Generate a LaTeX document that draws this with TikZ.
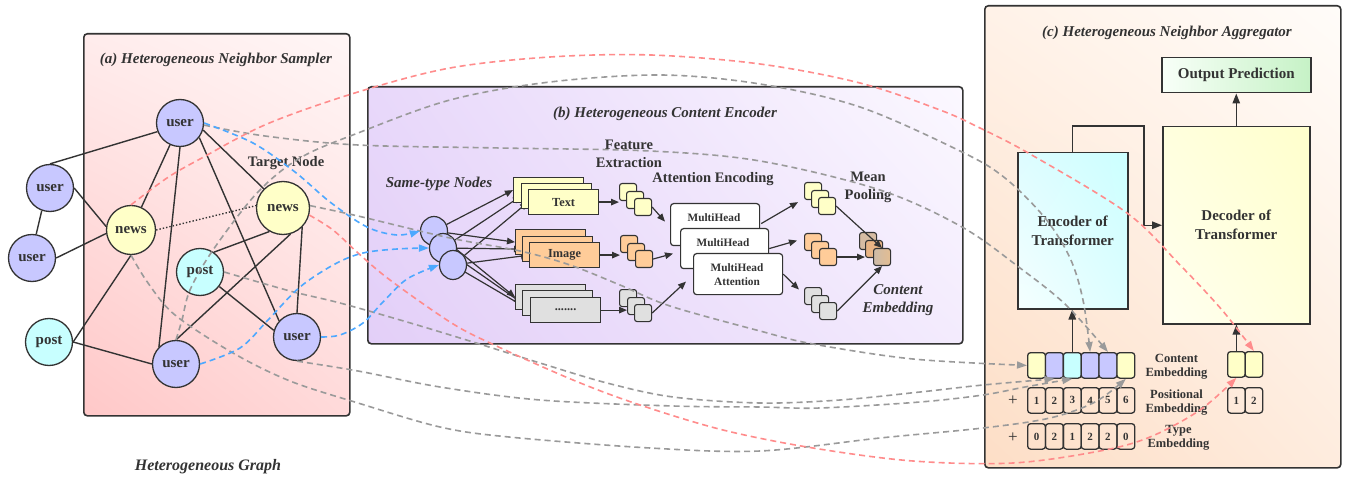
\documentclass[tikz,border=0pt]{standalone}
\usepackage{fontspec}
\setmainfont{Liberation Serif}
\usetikzlibrary{arrows.meta,calc,shapes.geometric,shadings}
\pgfdeclarelayer{bg}
\pgfdeclarelayer{mid}
\pgfdeclarelayer{top}
\pgfsetlayers{bg,mid,main,top}
\definecolor{ink}{HTML}{333333}
\definecolor{usr}{HTML}{C8C8FF}
\definecolor{nws}{HTML}{FFFFC8}
\definecolor{pst}{HTML}{C8FFFF}
\definecolor{org}{HTML}{FFCC99}
\definecolor{gry}{HTML}{E0E0E0}
\definecolor{dgray}{HTML}{9A9A9A}
\definecolor{dred}{HTML}{FF8C8C}
\definecolor{dblue}{HTML}{4DA8FF}
\newcommand{\fsz}[2]{\fontsize{#1}{#2}\selectfont}
\tikzset{
 gnode/.style={circle, draw=ink, line width=1.3pt, minimum size=47pt, inner sep=0pt, font=\fsz{15}{15}\bfseries, text=ink},
 usern/.style={gnode, fill=usr},
 newsn/.style={gnode, fill=nws},
 postn/.style={gnode, fill=pst},
 gedge/.style={draw=ink, line width=1.4pt},
 panel/.style={draw=ink, line width=1.6pt, rounded corners=3.5pt, inner sep=0pt, anchor=north west},
 blk/.style={draw=ink, line width=1.5pt, inner sep=0pt, anchor=north west, align=center, font=\fsz{15}{19}\bfseries, text=ink},
 ttl/.style={font=\fsz{15}{15}\bfseries\itshape, text=ink, inner sep=0pt},
 lbl/.style={font=\fsz{14.5}{18}\bfseries, text=ink, align=center, inner sep=0pt},
 ilbl/.style={font=\fsz{15}{18}\bfseries\itshape, text=ink, align=center, inner sep=0pt},
 feat/.style={draw=ink, line width=1.2pt, minimum width=70pt, minimum height=25pt, inner sep=0pt, anchor=north west, font=\fsz{12.3}{12.3}\bfseries, text=ink},
 sq/.style={draw=ink, line width=1.1pt, rounded corners=2.5pt, minimum size=17pt, inner sep=0pt, anchor=north west},
 mhb/.style={draw=ink, line width=1.2pt, fill=white, rounded corners=3pt, inner sep=0pt, anchor=north west},
 mht/.style={font=\fsz{11.3}{14}\bfseries, text=ink, align=center, inner sep=0pt},
 ecell/.style={draw=ink, line width=1.3pt, rounded corners=3pt, minimum width=17.85pt, minimum height=25.5pt, inner sep=0pt, anchor=north west, font=\fsz{11}{11}\bfseries, text=ink},
 elbl/.style={font=\fsz{12.5}{14}\bfseries, text=ink, align=center, inner sep=0pt},
 pls/.style={font=\fsz{17}{17}, text=ink, inner sep=0pt},
 arr/.style={draw=ink, line width=1.2pt, -{Triangle[length=8pt,width=6.5pt]}},
 arrc/.style={draw=ink, line width=1.4pt, -{Triangle[length=10pt,width=7.5pt]}},
 dsh/.style={line width=1.6pt, dash pattern=on 6pt off 4pt, -{Triangle[length=10pt,width=7pt]}},
 gd/.style={dsh, dgray},
 rd/.style={dsh, dred},
 bd/.style={dsh, dblue},
 sm/.style={smooth, tension=0.55},
}
\begin{document}
\begin{tikzpicture}[x=1pt,y=-1pt]
\useasboundingbox (0,0) rectangle (1347,481);
\begin{pgfonlayer}{bg}
\fill[white] (0,0) rectangle (1347,481);
\node[panel, minimum width=266pt, minimum height=382pt, upper left={rgb,255:red,255;green,236;blue,236}, upper right={rgb,255:red,255;green,246;blue,246}, lower left={rgb,255:red,255;green,200;blue,200}, lower right={rgb,255:red,255;green,218;blue,218}] (pa) at (83,33) {};
\node[panel, minimum width=595pt, minimum height=257pt, upper left={rgb,255:red,232;green,216;blue,250}, upper right={rgb,255:red,251;green,248;blue,255}, lower left={rgb,255:red,227;green,207;blue,248}, lower right={rgb,255:red,243;green,235;blue,253}] (pb) at (367,86) {};
\node[panel, minimum width=356pt, minimum height=462pt, upper left={rgb,255:red,255;green,242;blue,232}, upper right={rgb,255:red,255;green,252;blue,249}, lower left={rgb,255:red,253;green,222;blue,198}, lower right={rgb,255:red,254;green,236;blue,222}] (pc) at (984,5) {};
\end{pgfonlayer}

% ---------- (a) ----------
\node[ttl] (ta) at (216,60) {(a) Heterogeneous Neighbor Sampler};
\node[lbl] (tgt) at (286,163) {Target Node};
\node[ttl, font=\fsz{16}{16}\bfseries\itshape] (hg) at (208,467) {Heterogeneous Graph};

\node[usern] (uT) at (180,123) {user};
\node[usern] (uL1) at (50,188) {user};
\node[usern] (uL2) at (32,258) {user};
\node[newsn, minimum size=49pt] (nL) at (131,230) {news};
\node[newsn, minimum size=53pt] (nT) at (283,208) {news};
\node[postn] (pC) at (200,272) {post};
\node[postn] (pL) at (49,342) {post};
\node[usern] (uB) at (176,364) {user};
\node[usern] (uR) at (297,337) {user};

\begin{pgfonlayer}{mid}
\draw[gedge] (uL1.north) -- (uT.201);
\draw[gedge] (uL1.east) -- (nL.172);
\draw[gedge] (uL1.250) -- (uL2.80);
\draw[gedge] (uL2.east) -- (nL.188);
\draw[gedge] (nL) -- (uT);
\draw[gedge] (nL.south) -- (pL.east);
\draw[gedge] (pL.east) -- (uB.west);
\draw[gedge] (uT.south) -- (uB.135);
\draw[gedge] (uT.323) -- (uR.138);
\draw[gedge] (uT.343) -- (nT.135);
\draw[gedge] (nT.240) -- (pC.55);
\draw[gedge] (nT.286) -- (uB.north);
\draw[gedge] (nT.315) -- (uR.north);
\draw[gedge] (pC.323) -- (uR.164);
\draw[gedge, dotted] (nL.east) -- (nT.175);
\end{pgfonlayer}

% ---------- (b) ----------
\node[ttl] (tb) at (665,114) {(b) Heterogeneous Content Encoder};
\node[lbl] (fe) at (629,154) {Feature\\Extraction};
\node[ilbl] (stn) at (439,184) {Same-type Nodes};
\node[lbl] (ae) at (713,179) {Attention Encoding};
\node[lbl, text depth=0pt] (mp) at (868,185.5) {Mean\\Pooling};
\node[ilbl] (ce) at (898,300) {Content\\Embedding};

\node[ellipse, draw=ink, line width=1.2pt, fill=usr, minimum width=27pt, minimum height=29pt, inner sep=0pt] (e1) at (434,231) {};
\node[ellipse, draw=ink, line width=1.2pt, fill=usr, minimum width=27pt, minimum height=29pt, inner sep=0pt] (e2) at (443,248) {};
\node[ellipse, draw=ink, line width=1.2pt, fill=usr, minimum width=27pt, minimum height=29pt, inner sep=0pt] (e3) at (453,265) {};

\node[feat, fill=nws] (t1) at (513,177) {};
\node[feat, fill=nws] (t2) at (521,183) {};
\node[feat, fill=nws] (t3) at (528,189) {Text};
\node[feat, fill=org] (i1) at (515,229) {};
\node[feat, fill=org] (i2) at (522,236) {};
\node[feat, fill=org] (i3) at (529,242) {Image};
\node[feat, fill=gry] (g1) at (515,284) {};
\node[feat, fill=gry] (g2) at (522,290) {};
\node[feat, fill=gry] (g3) at (530,297) {.......};

\begin{pgfonlayer}{mid}
\foreach \k in {1,2,3} {
  \draw[arr] (e\k) -- (t\k.west);
  \draw[arr] (e\k) -- (i\k.west);
  \draw[arr] (e\k) -- (g\k.west);
}
\end{pgfonlayer}

\node[sq, fill=nws] (ty1) at (619,183) {};
\node[sq, fill=nws] (ty2) at (626,191) {};
\node[sq, fill=nws] (ty3) at (634,198) {};
\node[sq, fill=org] (to1) at (620,235) {};
\node[sq, fill=org] (to2) at (627,243) {};
\node[sq, fill=org] (to3) at (635,250) {};
\node[sq, fill=gry] (tg1) at (619,289) {};
\node[sq, fill=gry] (tg2) at (627,297) {};
\node[sq, fill=gry] (tg3) at (634,304) {};

\draw[arr] (t3.east) -- (t3.east -| ty1.west);
\draw[arr] (i3.east) -- (i3.east -| to1.west);
\draw[arr] (g3.east) -- (g3.east -| tg2.west);

\node[mhb, minimum width=89pt, minimum height=42pt] (mh1) at (670,203) {};
\node[mht] (mh1t) at (714,218) {MultiHead};
\node[mhb, minimum width=88pt, minimum height=40pt] (mh2) at (680,228) {};
\node[mht] (mh2t) at (723,243) {MultiHead};
\node[mhb, minimum width=89pt, minimum height=41pt] (mh3) at (693,253) {};
\node[mht] (mh3t) at (737,275) {MultiHead\\Attention};

\draw[arr] (ty3.east) -- ($(mh1.west)+(-5,-3)$);
\draw[arr] (to3.east) -- ($(mh2.west)+(-7,5)$);
\draw[arr] (tg3.east) -- ($(mh3.west)+(-7,7.5)$);

\node[sq, fill=nws] (oy1) at (804,182) {};
\node[sq, fill=nws] (oy2) at (811,190) {};
\node[sq, fill=nws] (oy3) at (818,197) {};
\node[sq, fill=org] (oo1) at (804,233) {};
\node[sq, fill=org] (oo2) at (811,241) {};
\node[sq, fill=org] (oo3) at (819,248) {};
\node[sq, fill=gry] (og1) at (804,287) {};
\node[sq, fill=gry] (og2) at (811,295) {};
\node[sq, fill=gry] (og3) at (819,302) {};

\draw[arr] ($(mh1.east)+(1,-1)$) -- ($(oy1.south west)+(-6,2)$);
\draw[arr] (mh2.east) -- ($(oo1.west)+(-7,-1.5)$);
\draw[arr] (mh3.east) -- ($(og1.west)+(-5,-6.5)$);

\node[sq, fill={rgb,255:red,214;green,188;blue,163}] (m1) at (859,232) {};
\node[sq, fill={rgb,255:red,232;green,180;blue,133}] (m2) at (865,240) {};
\node[sq, left color={rgb,255:red,205;green,187;blue,168}, right color={rgb,255:red,227;green,189;blue,146}] (m3) at (873,248) {};

\draw[arr] (oy3.east) -- (m3.north);
\draw[arr] (oo3.east) -- (oo3.east -| m2.west);
\draw[arr] (og3.east) -- (m3.south);

% ---------- (c) ----------
\node[ttl] (tc) at (1167,33) {(c) Heterogeneous Neighbor Aggregator};
\node[blk, minimum width=149pt, minimum height=35pt, left color={rgb,255:red,248;green,255;blue,248}, right color={rgb,255:red,198;green,242;blue,198}] (outp) at (1161,57) {Output Prediction};
\node[blk, minimum width=147pt, minimum height=197pt, upper left={rgb,255:red,255;green,255;blue,222}, upper right={rgb,255:red,255;green,255;blue,204}, lower left={rgb,255:red,255;green,255;blue,240}, lower right={rgb,255:red,255;green,255;blue,220}] (dec) at (1162,126) {Decoder of\\Transformer};
\node[blk, minimum width=110pt, minimum height=156pt, upper left={rgb,255:red,222;green,252;blue,255}, upper right={rgb,255:red,204;green,255;blue,255}, lower left={rgb,255:red,245;green,255;blue,255}, lower right={rgb,255:red,220;green,254;blue,255}] (enc) at (1017,152) {Encoder of\\Transformer};

\coordinate (jn) at ($(dec.west)+(-18,0)$);
\draw[arrc] (enc.north) |- (jn |- dec.north) -- (jn) -- (dec.west);
\draw[arrc] (dec.north) -- (dec.north |- outp.south);

\foreach \i/\cl in {1/nws,2/usr,3/pst,4/usr,5/usr,6/nws}
  \node[ecell, fill=\cl] (c\i) at ({1027+(\i-1)*17.85},352) {};
\foreach \i in {1,...,6}
  \node[ecell] (p\i) at ({1027+(\i-1)*17.85},387) {\i};
\foreach \i/\v in {1/0,2/2,3/1,4/2,5/2,6/0}
  \node[ecell] (y\i) at ({1027+(\i-1)*17.85},423) {\v};
\node[ecell, minimum width=17.5pt, fill=nws] (d1) at (1227,351) {};
\node[ecell, minimum width=17.5pt, fill=nws] (d2) at (1244.5,351) {};
\node[ecell, minimum width=17.5pt] (dp1) at (1227,387) {1};
\node[ecell, minimum width=17.5pt] (dp2) at (1244.5,387) {2};

\node[pls] (pl1) at (1013,401) {+};
\node[pls] (pl2) at (1013,438) {+};
\node[elbl] (lc) at (1176.5,367) {Content\\Embedding};
\node[elbl] (lp) at (1176.5,403) {Positional\\Embedding};
\node[elbl] (ly) at (1178.5,437.5) {Type\\Embedding};

\draw[arrc] (c3.north) -- (c3.north |- enc.south);
\draw[arrc] (d1.north) -- (d1.north |- dec.south);

% ---------- dashed connectors ----------
\begin{pgfonlayer}{top}
\draw[gd] plot[sm] coordinates {(uT.355) (265,136) (358,145) (500,148) (650,151) (760,161) (880,190) (962,227) (1020,268) (1066,305) (c5.north)};
\draw[gd] plot[sm] coordinates {(uB.north) (182,320) (190,290) (213,250) (257,193) (300,158) (358,133) (450,100) (550,82) (661,75) (760,84) (860,107) (962,152) (1005,178) (1045,218) (1070,258) (1083,300) (c4.north)};
\draw[gd] plot[sm] coordinates {(nT.5) (358,216) (450,238) (520,251) (570,265) (620,285) (670,306) (760,331) (813,344) (913,359) (c1.west)};
\draw[gd] plot[sm] coordinates {(pC.east) (290,291) (340,303) (407,322) (473,342) (540,363) (607,383) (673,397) (760,403) (840,400) (920,392) (983,385) (c2.south)};
\draw[gd] plot[sm] coordinates {(uR.south) (358,371) (440,387) (540,400) (673,406) (760,407) (820,408) (920,402) (983,395) (1025,387) (c3.south)};
\draw[gd] plot[sm] coordinates {(nL.south) (148,283) (175,315) (233,353) (290,381) (358,403) (440,427) (509,437) (650,448) (760,451) (880,438) (983,428) (1050,418) (1095,402) (c6.south)};
\draw[rd] plot[sm] coordinates {(nL.north) (167,178) (200,159) (267,124) (358,92) (450,68) (550,57) (651,55) (760,64) (860,83) (940,110) (980,128) (1030,154) (1127,213) (1180,265) (1222,310) (d2.north)};
\draw[rd] plot[sm] coordinates {(nT.345) (333,230) (358,253) (390,280) (450,322) (490,343) (573,380) (640,405) (723,430) (813,448) (913,461) (1013,463) (1100,451) (1150,437) (1200,410) (d1.south)};
\draw[bd] plot[sm] coordinates {(uT.east) (253,143) (295,172) (330,202) (367,227) (397,235) (e1.west)};
\draw[bd] plot[sm] coordinates {(uB.east) (240,348) (268,320) (300,287) (335,264) (363,253) (397,249) (e2.west)};
\draw[bd] plot[sm] coordinates {(uR.east) (340,335) (363,323) (383,302) (407,279) (e3.west)};
\end{pgfonlayer}
\end{tikzpicture}
\end{document}
